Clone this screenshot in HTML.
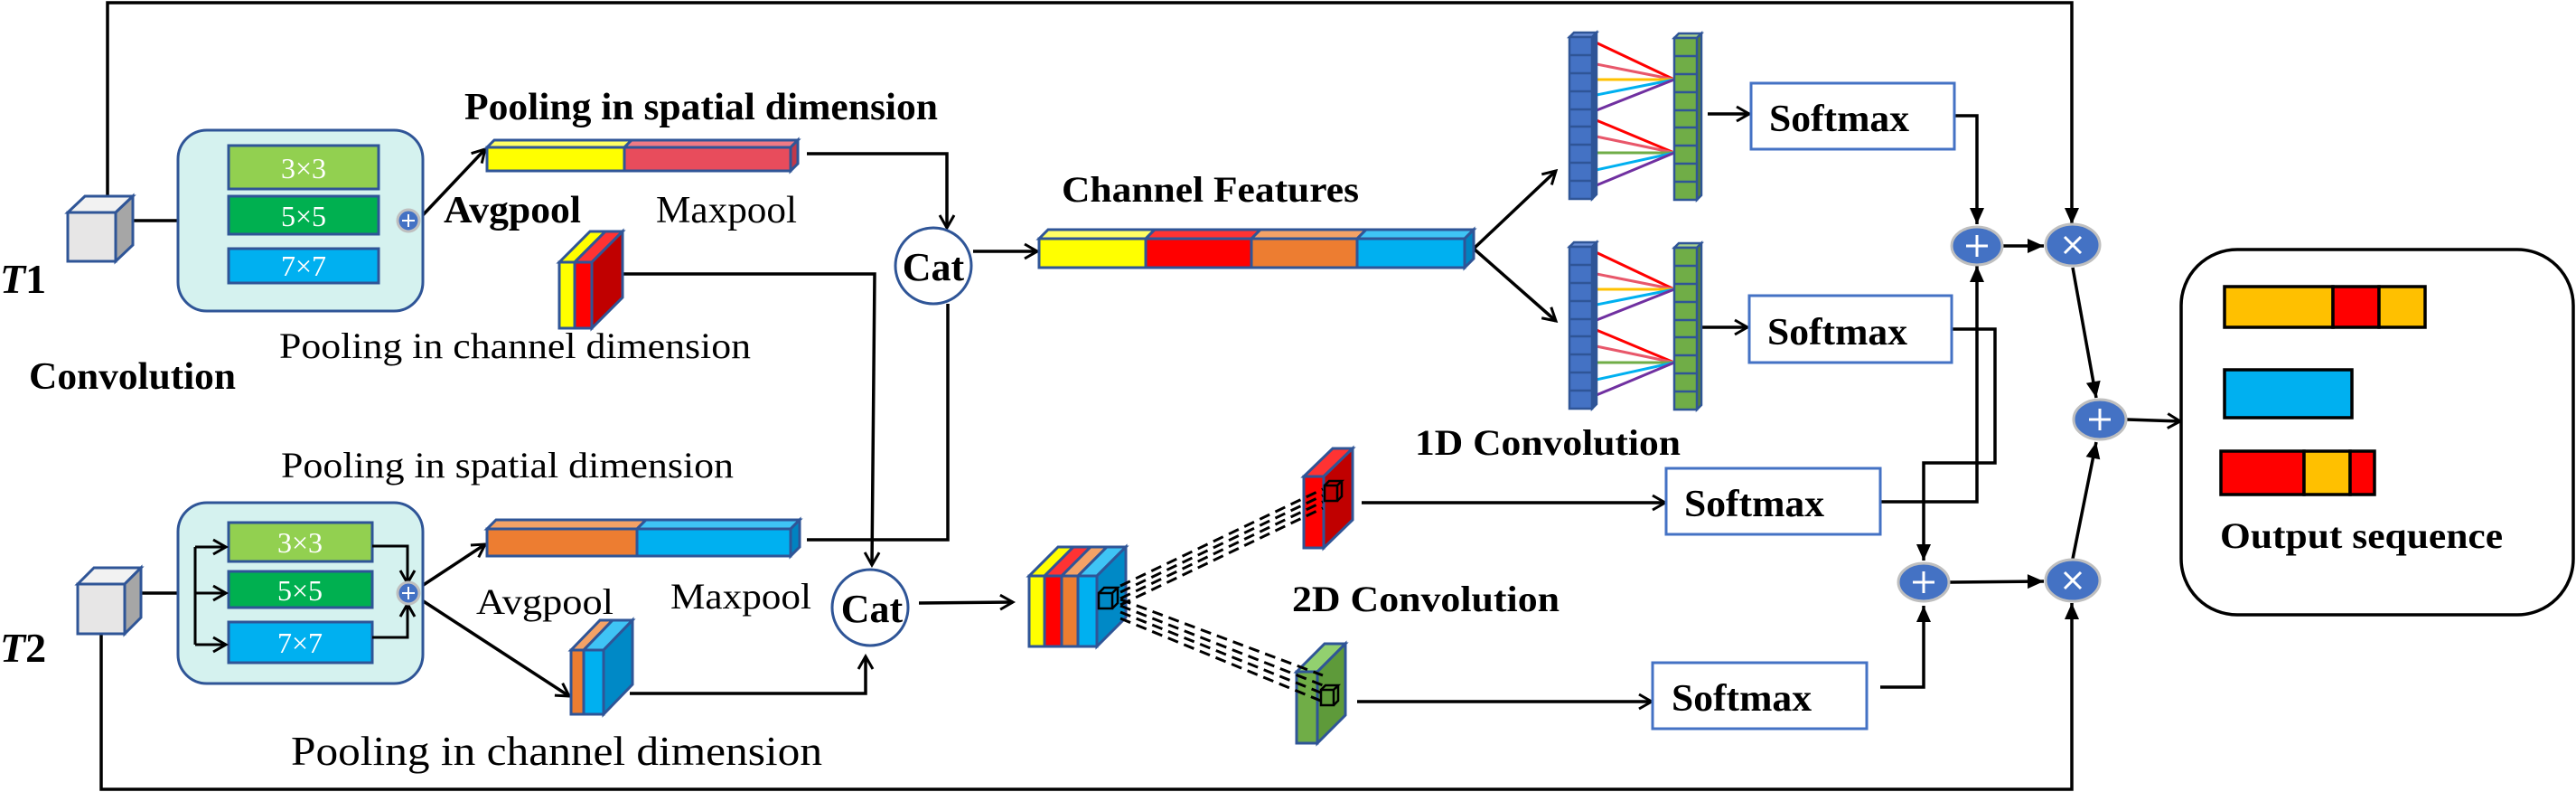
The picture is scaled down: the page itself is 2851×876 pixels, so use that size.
<!DOCTYPE html>
<html><head><meta charset="utf-8">
<style>html,body{margin:0;padding:0;background:#fff}svg{display:block}</style>
</head><body>
<svg width="2851" height="876" viewBox="0 0 2851 876" xmlns="http://www.w3.org/2000/svg" font-family="Liberation Serif, serif">
<defs>
<marker id="oa" markerWidth="20" markerHeight="20" refX="17" refY="10" orient="auto" markerUnits="userSpaceOnUse">
<path d="M3,2 L17,10 L3,18" fill="none" stroke="#000" stroke-width="3"/></marker>
<marker id="fa" markerWidth="22" markerHeight="22" refX="20" refY="11" orient="auto" markerUnits="userSpaceOnUse">
<path d="M2,3 L20,11 L2,19 Z" fill="#000"/></marker>
</defs>
<g fill="none" stroke="#000" stroke-width="3.5">
<!-- outer frame -->
<polyline points="119,217 119,3 2293,3 2293,248" marker-end="url(#fa)"/>
<polyline points="112,701 112,873 2293,873 2293,667" marker-end="url(#fa)"/>
<!-- T1 -->
<line x1="147" y1="244" x2="197" y2="244"/>
<line x1="466" y1="240" x2="537" y2="165" marker-end="url(#oa)"/>
<polyline points="893,170 1048,170 1048,252" marker-end="url(#oa)"/>
<polyline points="690,303 968,303 965,625" marker-end="url(#oa)"/>
<polyline points="1049,336 1049,597 893,597"/>
<!-- T2 -->
<line x1="156" y1="656" x2="197" y2="656"/>
<line x1="464" y1="650" x2="537" y2="602" marker-end="url(#oa)"/>
<line x1="464" y1="662" x2="630" y2="770" marker-end="url(#oa)"/>
<polyline points="697,767 958,767 958,726" marker-end="url(#oa)"/>
<line x1="1077" y1="278" x2="1148" y2="278" marker-end="url(#oa)"/>
<line x1="1017" y1="667" x2="1121" y2="666" marker-end="url(#oa)"/>
<line x1="1631" y1="275" x2="1722" y2="189" marker-end="url(#oa)"/>
<line x1="1631" y1="275" x2="1722" y2="355" marker-end="url(#oa)"/>
<line x1="1890" y1="126" x2="1936" y2="126" marker-end="url(#oa)"/>
<line x1="1884" y1="362" x2="1934" y2="362" marker-end="url(#oa)"/>
<line x1="1507" y1="556" x2="1843" y2="556" marker-end="url(#oa)"/>
<line x1="1502" y1="776" x2="1828" y2="776" marker-end="url(#oa)"/>
<!-- right side -->
<polyline points="2163,128 2188,128 2188,248" marker-end="url(#fa)"/>
<polyline points="2081,555 2188,555 2188,294" marker-end="url(#fa)"/>
<polyline points="2160,364 2208,364 2208,512 2129,512 2129,620" marker-end="url(#fa)"/>
<polyline points="2081,760 2129,760 2129,670" marker-end="url(#fa)"/>
<line x1="2217" y1="272" x2="2262" y2="272" marker-end="url(#fa)"/>
<line x1="2158" y1="644" x2="2262" y2="643" marker-end="url(#fa)"/>
<line x1="2294" y1="296" x2="2320" y2="440" marker-end="url(#fa)"/>
<line x1="2294" y1="618" x2="2320" y2="489" marker-end="url(#fa)"/>
<line x1="2354" y1="464" x2="2413" y2="466" marker-end="url(#oa)"/>
</g>

<!-- T1 cube -->
<g stroke="#2f5597" stroke-width="3">
<polygon points="75,235 94,217 147,217 128,235" fill="#f2f2f2"/>
<polygon points="128,235 147,217 147,271 128,289" fill="#a6a6a6"/>
<rect x="75" y="235" width="53" height="54" fill="#e7e6e6"/>
<polygon points="86,646 104,628 156,628 138,646" fill="#f2f2f2"/>
<polygon points="138,646 156,628 156,683 138,701" fill="#a6a6a6"/>
<rect x="86" y="646" width="52" height="55" fill="#e7e6e6"/>
</g>
<text x="0" y="324" font-size="46" font-weight="bold" font-style="italic">T<tspan font-style="normal">1</tspan></text>
<text x="0" y="732" font-size="46" font-weight="bold" font-style="italic">T<tspan font-style="normal">2</tspan></text>
<text x="32" y="430" font-size="42" font-weight="bold" textLength="229" lengthAdjust="spacingAndGlyphs">Convolution</text>

<!-- conv boxes -->
<g stroke="#2f5597" stroke-width="3">
<rect x="197" y="144" width="271" height="200" rx="32" fill="#d5f2ef"/>
<rect x="253" y="161" width="166" height="48" fill="#92d050"/>
<rect x="253" y="217" width="166" height="42" fill="#00b050"/>
<rect x="253" y="275" width="166" height="38" fill="#00b0f0"/>
<rect x="197" y="556" width="271" height="200" rx="32" fill="#d5f2ef"/>
<rect x="253" y="578" width="159" height="43" fill="#92d050"/>
<rect x="253" y="632" width="159" height="40" fill="#00b050"/>
<rect x="253" y="688" width="159" height="45" fill="#00b0f0"/>
</g>
<g fill="#fff" font-size="32" text-anchor="middle">
<text x="336" y="197">3×3</text><text x="336" y="250">5×5</text><text x="336" y="305">7×7</text>
<text x="332" y="611">3×3</text><text x="332" y="664">5×5</text><text x="332" y="722">7×7</text>
</g>
<g fill="none" stroke="#000" stroke-width="3">
<polyline points="216,605 216,713"/>
<line x1="216" y1="605" x2="250" y2="605" marker-end="url(#oa)"/>
<line x1="216" y1="656" x2="250" y2="656" marker-end="url(#oa)"/>
<line x1="216" y1="713" x2="250" y2="713" marker-end="url(#oa)"/>
<polyline points="412,604 451,604 451,645" marker-end="url(#oa)"/>
<polyline points="412,705 451,705 451,668" marker-end="url(#oa)"/>
</g>
<g>
<circle cx="452" cy="244" r="12" fill="#4472c4" stroke="#bfbfbf" stroke-width="3"/>
<path d="M445,244h14M452,237v14" stroke="#fff" stroke-width="2"/>
<circle cx="452" cy="656" r="12" fill="#4472c4" stroke="#bfbfbf" stroke-width="3"/>
<path d="M445,656h14M452,649v14" stroke="#fff" stroke-width="2"/>
</g>

<!-- spatial bars -->
<g stroke="#2f5597" stroke-width="3">
<polygon points="539,163 547,155 699,155 691,163" fill="#ffff66"/>
<polygon points="691,163 699,155 883,155 875,163" fill="#ef7a85"/>
<polygon points="875,163 883,155 883,181 875,189" fill="#c0394a"/>
<rect x="539" y="163" width="152" height="26" fill="#ffff00"/>
<rect x="691" y="163" width="184" height="26" fill="#e84c5c"/>
<polygon points="539,585 549,575 715,575 705,585" fill="#f4a266"/>
<polygon points="705,585 715,575 885,575 875,585" fill="#3fc4f5"/>
<polygon points="875,585 885,575 885,605 875,615" fill="#0083c1"/>
<rect x="539" y="585" width="166" height="30" fill="#ed7d31"/>
<rect x="705" y="585" width="170" height="30" fill="#00b0f0"/>
</g>
<text x="514" y="132" font-size="42" font-weight="bold" textLength="524" lengthAdjust="spacingAndGlyphs">Pooling in spatial dimension</text>
<text x="491" y="246" font-size="42" font-weight="bold" textLength="152" lengthAdjust="spacingAndGlyphs">Avgpool</text>
<text x="726" y="246" font-size="42" textLength="156" lengthAdjust="spacingAndGlyphs">Maxpool</text>
<text x="309" y="396" font-size="40" textLength="522" lengthAdjust="spacingAndGlyphs">Pooling in channel dimension</text>
<text x="311" y="528" font-size="40" textLength="501" lengthAdjust="spacingAndGlyphs">Pooling in spatial dimension</text>
<text x="527" y="679" font-size="40" textLength="152" lengthAdjust="spacingAndGlyphs">Avgpool</text>
<text x="742" y="673" font-size="40" textLength="156" lengthAdjust="spacingAndGlyphs">Maxpool</text>
<text x="322" y="846" font-size="46" textLength="588" lengthAdjust="spacingAndGlyphs">Pooling in channel dimension</text>

<!-- channel blocks -->
<g stroke="#2f5597" stroke-width="3">
<polygon points="619,290 653,256 670,256 636,290" fill="#ffff00"/>
<polygon points="636,290 670,256 689,256 655,290" fill="#ff3333"/>
<polygon points="655,290 689,256 689,329 655,363" fill="#c00000"/>
<rect x="619" y="290" width="17" height="73" fill="#ffff00"/>
<rect x="636" y="290" width="19" height="73" fill="#ff0000"/>
<polygon points="632,719 664,686 678,686 646,719" fill="#f4a266"/>
<polygon points="646,719 678,686 700,686 668,719" fill="#3fc4f5"/>
<polygon points="668,719 700,686 700,757 668,790" fill="#0089c6"/>
<rect x="632" y="719" width="14" height="71" fill="#ed7d31"/>
<rect x="646" y="719" width="22" height="71" fill="#00b0f0"/>
</g>

<!-- Cat circles -->
<g stroke="#2f5597" stroke-width="3" fill="#fff">
<circle cx="1033" cy="294" r="42"/>
<circle cx="963" cy="672" r="42"/>
</g>
<text x="1033" y="310" font-size="44" font-weight="bold" text-anchor="middle">Cat</text>
<text x="965" y="688" font-size="44" font-weight="bold" text-anchor="middle">Cat</text>

<!-- channel features bar -->
<g stroke="#2f5597" stroke-width="3">
<polygon points="1150,264 1160,254 1278,254 1268,264" fill="#ffff66"/>
<polygon points="1268,264 1278,254 1395,254 1385,264" fill="#ff3333"/>
<polygon points="1385,264 1395,254 1512,254 1502,264" fill="#f4a266"/>
<polygon points="1502,264 1512,254 1631,254 1621,264" fill="#3fc4f5"/>
<polygon points="1621,264 1631,254 1631,286 1621,296" fill="#0083c1"/>
<rect x="1150" y="264" width="118" height="32" fill="#ffff00"/>
<rect x="1268" y="264" width="117" height="32" fill="#ff0000"/>
<rect x="1385" y="264" width="117" height="32" fill="#ed7d31"/>
<rect x="1502" y="264" width="119" height="32" fill="#00b0f0"/>
</g>
<text x="1175" y="223" font-size="40" font-weight="bold" textLength="329" lengthAdjust="spacingAndGlyphs">Channel Features</text>

<!-- 1D conv columns -->
<g id="c1">
<g stroke-width="3" fill="none">
<line x1="1762" y1="45" x2="1853" y2="88" stroke="#ff0000"/>
<line x1="1762" y1="70" x2="1853" y2="88" stroke="#e8576a"/>
<line x1="1762" y1="88" x2="1853" y2="88" stroke="#ffc000"/>
<line x1="1762" y1="106" x2="1853" y2="88" stroke="#00b0f0"/>
<line x1="1762" y1="124" x2="1853" y2="88" stroke="#7030a0"/>
<line x1="1762" y1="131" x2="1853" y2="169" stroke="#ff0000"/>
<line x1="1762" y1="150" x2="1853" y2="169" stroke="#e8576a"/>
<line x1="1762" y1="169" x2="1853" y2="169" stroke="#70ad47"/>
<line x1="1762" y1="189" x2="1853" y2="169" stroke="#00b0f0"/>
<line x1="1762" y1="207" x2="1853" y2="169" stroke="#7030a0"/>
</g>
<g stroke="#2f5597" stroke-width="2.5">
<polygon points="1737,41 1742,36 1767,36 1762,41" fill="#6a8fd6"/>
<polygon points="1762,41 1767,36 1767,215 1762,220" fill="#2f5597"/>
<rect x="1737" y="41" width="25" height="179" fill="#4472c4"/>
<path d="M1737,61h25M1737,81h25M1737,101h25M1737,121h25M1737,140h25M1737,160h25M1737,180h25M1737,200h25" fill="none"/>
<polygon points="1853,42 1858,37 1883,37 1878,42" fill="#a9d18e"/>
<polygon points="1878,42 1883,37 1883,216 1878,221" fill="#548235"/>
<rect x="1853" y="42" width="25" height="179" fill="#70ad47"/>
<path d="M1853,62h25M1853,82h25M1853,102h25M1853,122h25M1853,141h25M1853,161h25M1853,181h25M1853,201h25" fill="none"/>
</g>
</g>
<use href="#c1" transform="translate(0,232)"/>

<!-- softmax boxes -->
<g fill="#fff" stroke="#4472c4" stroke-width="3">
<rect x="1938" y="92" width="225" height="73"/>
<rect x="1936" y="327" width="224" height="74"/>
<rect x="1844" y="518" width="237" height="73"/>
<rect x="1829" y="733" width="237" height="73"/>
</g>
<g font-size="42" font-weight="bold">
<text x="1958" y="145" textLength="155" lengthAdjust="spacingAndGlyphs">Softmax</text>
<text x="1956" y="381" textLength="155" lengthAdjust="spacingAndGlyphs">Softmax</text>
<text x="1864" y="571" textLength="155" lengthAdjust="spacingAndGlyphs">Softmax</text>
<text x="1850" y="786" textLength="155" lengthAdjust="spacingAndGlyphs">Softmax</text>
</g>
<text x="1566" y="503" font-size="40" font-weight="bold" textLength="294" lengthAdjust="spacingAndGlyphs">1D Convolution</text>
<text x="1430" y="676" font-size="40" font-weight="bold" textLength="296" lengthAdjust="spacingAndGlyphs">2D Convolution</text>

<!-- 2D stack -->
<g stroke="#2f5597" stroke-width="3">
<polygon points="1139,637 1171,605 1188,605 1156,637" fill="#ffff00"/>
<polygon points="1156,637 1188,605 1207,605 1175,637" fill="#ff3333"/>
<polygon points="1175,637 1207,605 1225,605 1193,637" fill="#f4a266"/>
<polygon points="1193,637 1225,605 1246,605 1214,637" fill="#3fc4f5"/>
<polygon points="1214,637 1246,605 1246,683 1214,715" fill="#0089c6"/>
<rect x="1139" y="637" width="17" height="78" fill="#ffff00"/>
<rect x="1156" y="637" width="19" height="78" fill="#ff0000"/>
<rect x="1175" y="637" width="18" height="78" fill="#ed7d31"/>
<rect x="1193" y="637" width="21" height="78" fill="#00b0f0"/>
<!-- red map -->
<polygon points="1443,527 1475,496 1497,496 1465,527" fill="#ff3333"/>
<polygon points="1465,527 1497,496 1497,575 1465,606" fill="#c00000"/>
<rect x="1443" y="527" width="22" height="79" fill="#ff0000"/>
<!-- green map -->
<polygon points="1435,743 1466,712 1489,712 1458,743" fill="#92d06f"/>
<polygon points="1458,743 1489,712 1489,791 1458,822" fill="#5e9a3a"/>
<rect x="1435" y="743" width="23" height="79" fill="#70ad47"/>
</g>
<g fill="none" stroke="#000" stroke-width="2.5">
<path d="M1216,656h15v17h-15zM1216,656l6,-6h15l-6,6M1231,673l6,-6v-17"/>
<path d="M1466,537h14v17h-14zM1466,537l5,-5h14l-5,5M1480,554l5,-5v-17"/>
<path d="M1462,763h14v17h-14zM1462,763l5,-5h14l-5,5M1476,780l5,-5v-17"/>
</g>
<g stroke="#000" stroke-width="3" stroke-dasharray="12,7" fill="none">
<line x1="1240" y1="648" x2="1464" y2="541"/>
<line x1="1240" y1="655" x2="1464" y2="548"/>
<line x1="1240" y1="662" x2="1464" y2="555"/>
<line x1="1240" y1="669" x2="1464" y2="562"/>
<line x1="1240" y1="663" x2="1464" y2="747"/>
<line x1="1240" y1="670" x2="1464" y2="758"/>
<line x1="1240" y1="677" x2="1464" y2="767"/>
<line x1="1240" y1="684" x2="1464" y2="776"/>
</g>

<!-- operators -->
<g stroke="#bfbfbf" stroke-width="3" fill="#4472c4">
<ellipse cx="2188" cy="272" rx="28" ry="21"/>
<ellipse cx="2294" cy="271" rx="30" ry="23"/>
<ellipse cx="2324" cy="464" rx="29" ry="22"/>
<ellipse cx="2129" cy="644" rx="28" ry="21"/>
<ellipse cx="2294" cy="642" rx="30" ry="23"/>
</g>
<g stroke="#fff" stroke-width="3" fill="none">
<path d="M2176,272h24M2188,260v24"/>
<path d="M2312,464h24M2324,452v24"/>
<path d="M2117,644h24M2129,632v24"/>
<path d="M2285,262l18,18M2303,262l-18,18"/>
<path d="M2285,633l18,18M2303,633l-18,18"/>
</g>

<!-- output -->
<rect x="2414" y="276" width="434" height="404" rx="62" fill="#fff" stroke="#000" stroke-width="3.5"/>
<g stroke="#000" stroke-width="3.5">
<rect x="2462" y="317" width="120" height="45" fill="#ffc000"/>
<rect x="2582" y="317" width="51" height="45" fill="#ff0000"/>
<rect x="2633" y="317" width="51" height="45" fill="#ffc000"/>
<rect x="2462" y="409" width="141" height="53" fill="#00b0f0"/>
<rect x="2458" y="499" width="92" height="48" fill="#ff0000"/>
<rect x="2550" y="499" width="51" height="48" fill="#ffc000"/>
<rect x="2601" y="499" width="27" height="48" fill="#ff0000"/>
</g>
<text x="2457" y="606" font-size="40" font-weight="bold" textLength="313" lengthAdjust="spacingAndGlyphs">Output sequence</text>
</svg>
</body></html>
